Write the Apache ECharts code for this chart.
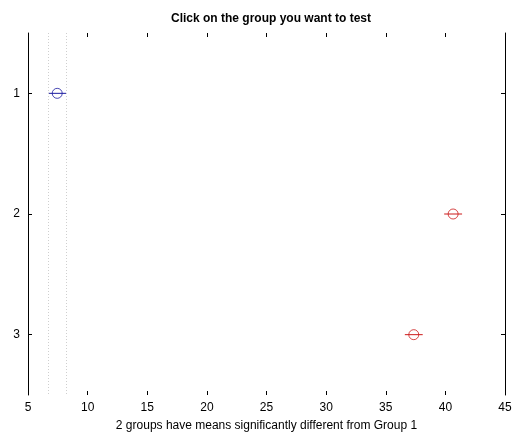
<!DOCTYPE html>
<html>
<head>
<meta charset="utf-8">
<script src="https://cdn.jsdelivr.net/npm/echarts@6/dist/echarts.min.js"></script>
<style>
  html, body { margin: 0; padding: 0; background: #fff; }
  #chart { width: 512px; height: 434px; }
</style>
</head>
<body>
<div id="chart"></div>
<script>
// Group labels (top to bottom)
const groups = ['1', '2', '3'];
// Estimated group means and comparison interval bounds
const means = [7.45, 40.65, 37.35];
const lower = [6.7, 39.9, 36.6];
const upper = [8.2, 41.4, 38.1];
// Marker colours: tested group in blue, significantly different groups in red
const colors = ['#1a1aa0', '#cc1a1a', '#cc1a1a'];
// x-axis ticks
const xMin = 5, xMax = 45, xStep = 5;

const FONT = 'Liberation Sans, Arial, sans-serif';

const series = [];
groups.forEach((g, i) => {
  // interval bar
  series.push({
    type: 'line',
    xAxisIndex: 0, yAxisIndex: 0,
    data: [[lower[i], g], [upper[i], g]],
    showSymbol: false,
    silent: true,
    lineStyle: { color: colors[i], width: 1 },
    z: 3
  });
  // mean marker
  series.push({
    type: 'scatter',
    xAxisIndex: 0, yAxisIndex: 0,
    data: [[means[i], g]],
    symbol: 'circle',
    symbolSize: 10,
    itemStyle: { color: 'rgba(255,255,255,0)', borderColor: colors[i], borderWidth: 1 },
    silent: true,
    z: 4
  });
});
// dotted reference lines at the bounds of the selected group's interval
series.push({
  type: 'line',
  xAxisIndex: 0, yAxisIndex: 0,
  data: [],
  markLine: {
    silent: true,
    symbol: ['none', 'none'],
    label: { show: false },
    lineStyle: { color: '#cfcfcf', type: [1, 2], width: 1 },
    data: [{ xAxis: lower[0] }, { xAxis: upper[0] }]
  }
});

const tickStyle = { show: true, inside: true, length: 4, lineStyle: { color: '#000' } };

const option = {
  animation: false,
  backgroundColor: '#fff',
  title: {
    text: 'Click on the group you want to test',
    left: 266, textAlign: 'center', top: 8,
    textStyle: { fontFamily: FONT, fontSize: 12, fontWeight: 'bold', color: '#000' }
  },
  grid: { left: 28, right: 7, top: 33, bottom: 39, containLabel: false, outerBoundsMode: 'none' },
  xAxis: [
    {
      type: 'value', min: xMin, max: xMax, interval: xStep, position: 'bottom',
      name: '2 groups have means significantly different from Group 1',
      nameLocation: 'middle', nameGap: 25,
      nameTextStyle: { fontFamily: FONT, fontSize: 12, color: '#000' },
      axisLine: { lineStyle: { color: '#000', width: 1 } },
      axisTick: tickStyle,
      axisLabel: { fontFamily: FONT, fontSize: 12, color: '#000', margin: 7, showMinLabel: true, showMaxLabel: true },
      splitLine: { show: false }
    },
    {
      type: 'value', min: xMin, max: xMax, interval: xStep, position: 'top',
      axisLine: { lineStyle: { color: '#000', width: 1 } },
      axisTick: tickStyle,
      axisLabel: { show: false },
      splitLine: { show: false }
    }
  ],
  yAxis: [
    {
      type: 'category', data: groups, inverse: true, position: 'left', boundaryGap: true,
      axisLine: { lineStyle: { color: '#000', width: 1 } },
      axisTick: Object.assign({}, tickStyle, { alignWithLabel: true }),
      axisLabel: { fontFamily: FONT, fontSize: 12, color: '#000', margin: 8 },
      splitLine: { show: false }
    },
    {
      type: 'category', data: groups, inverse: true, position: 'right', boundaryGap: true,
      axisLine: { lineStyle: { color: '#000', width: 1 } },
      axisTick: Object.assign({}, tickStyle, { alignWithLabel: true }),
      axisLabel: { show: false },
      splitLine: { show: false }
    }
  ],
  series: series
};

const chart = echarts.init(document.getElementById('chart'), null, { renderer: 'canvas' });
chart.setOption(option);
</script>
</body>
</html>
